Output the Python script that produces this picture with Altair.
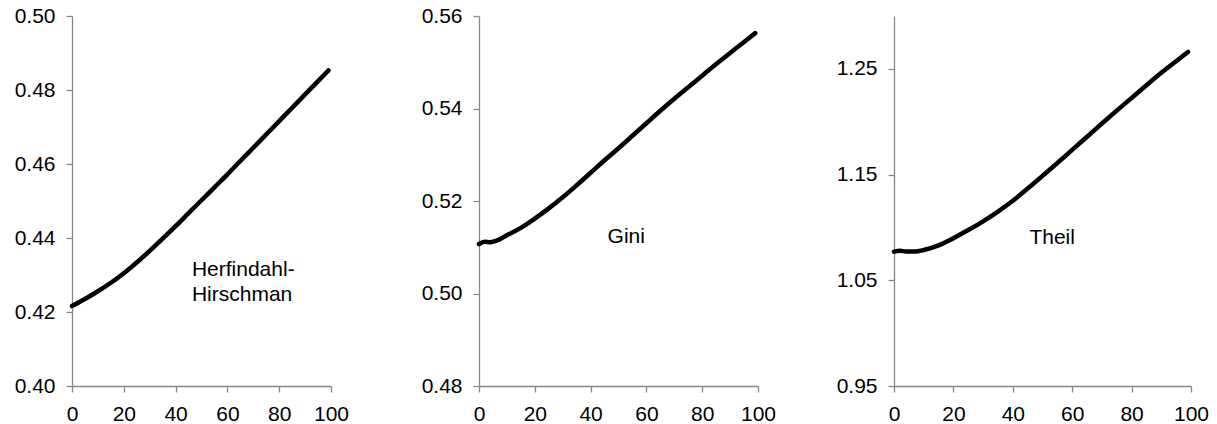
import altair as alt
import pandas as pd

# ---- data ----
hh_x = [0, 5, 10, 15, 20, 25, 30, 35, 40, 45, 50, 55, 60, 65, 70, 75, 80, 85, 90, 95, 99]
hh_y = [0.4216, 0.4235, 0.4256, 0.4279, 0.4305, 0.4334, 0.4365, 0.4398, 0.4432, 0.4467,
        0.4502, 0.4537, 0.4572, 0.4608, 0.4644, 0.4680, 0.4716, 0.4752, 0.4788, 0.4824, 0.4853]

gini_x = [0, 2, 4, 7, 10, 15, 20, 25, 30, 35, 40, 45, 50, 55, 60, 65, 70, 75, 80, 85, 90, 95, 99]
gini_y = [0.5107, 0.5112, 0.5111, 0.5116, 0.5126, 0.5142, 0.5162, 0.5184, 0.5208, 0.5234,
          0.5261, 0.5288, 0.5314, 0.5341, 0.5368, 0.5395, 0.5421, 0.5446, 0.5471, 0.5496,
          0.5520, 0.5544, 0.5563]

theil_x = [0, 2, 4, 7, 10, 15, 20, 25, 30, 35, 40, 45, 50, 55, 60, 65, 70, 75, 80, 85, 90, 95, 99]
theil_y = [1.0771, 1.0780, 1.0772, 1.0772, 1.0786, 1.0830, 1.0898, 1.0975, 1.1058, 1.1150,
           1.1252, 1.1368, 1.1488, 1.1609, 1.1733, 1.1858, 1.1983, 1.2105, 1.2225, 1.2345,
           1.2462, 1.2572, 1.2660]

x_ticks = [0, 20, 40, 60, 80, 100]
hh_ticks = [0.40, 0.42, 0.44, 0.46, 0.48, 0.50]
gini_ticks = [0.48, 0.50, 0.52, 0.54, 0.56]
theil_ticks = [0.95, 1.05, 1.15, 1.25, 1.30]

hh_label = ["Herfindahl-", "Hirschman"]
hh_label_x = [46.3, 46.3]
hh_label_y = [0.4297, 0.4230]
gini_label = ["Gini"]
gini_label_x = [46.1]
gini_label_y = [0.5109]
theil_label = ["Theil"]
theil_label_x = [45.6]
theil_label_y = [1.0841]

FONT = "Liberation Sans"
GREY = "#888888"


def panel(xs, ys, dom, ticks, lab, lab_x, lab_y, width, hide_top=False):
    df = pd.DataFrame({"x": xs, "y": ys})
    tf = pd.DataFrame({"t": lab, "x": lab_x, "y": lab_y})
    yaxis = dict(values=ticks, format=".2f", title=None, grid=False,
                 tickSize=6, labelPadding=11, labelFlush=False)
    if hide_top:
        yaxis["labelExpr"] = "datum.value >= 1.29 ? ' ' : datum.label"
        yaxis["tickOpacity"] = {"condition": {"test": "datum.value >= 1.29", "value": 0}, "value": 1}
    xenc = alt.X("x:Q", scale=alt.Scale(domain=[0, 100], nice=False),
                 axis=alt.Axis(values=x_ticks, title=None, grid=False, tickSize=6,
                               labelPadding=11, labelFlush=False))
    yenc = alt.Y("y:Q", scale=alt.Scale(domain=dom, nice=False, zero=False),
                 axis=alt.Axis(**yaxis))
    line = alt.Chart(df).mark_line(color="black", strokeWidth=4.5, interpolate="monotone",
                                   strokeCap="round").encode(x=xenc, y=yenc)
    txt = alt.Chart(tf).mark_text(align="left", baseline="alphabetic", font=FONT,
                                  fontSize=21, color="black").encode(
        x=alt.X("x:Q"), y=alt.Y("y:Q"), text="t:N")
    return alt.layer(line, txt).properties(width=width, height=370)


p1 = panel(hh_x, hh_y, [0.40, 0.50], hh_ticks, hh_label, hh_label_x, hh_label_y, 259)
p2 = panel(gini_x, gini_y, [0.48, 0.56], gini_ticks, gini_label, gini_label_x, gini_label_y, 279)
p3 = panel(theil_x, theil_y, [0.95, 1.30], theil_ticks, theil_label, theil_label_x, theil_label_y,
           297, hide_top=True)

inner = alt.hconcat(p1, p2, spacing=72)
chart = alt.hconcat(inner, p3, spacing=60).properties(
    padding={"left": 6, "top": -3, "right": 0, "bottom": 0},
    background="white"
).configure_view(stroke=None).configure_axis(
    domainColor=GREY, tickColor=GREY, domainWidth=1.3, tickWidth=1.3,
    labelFont=FONT, labelFontSize=21, labelColor="black"
)

chart.save("out.html", embed_options={"renderer": "svg", "actions": False})
